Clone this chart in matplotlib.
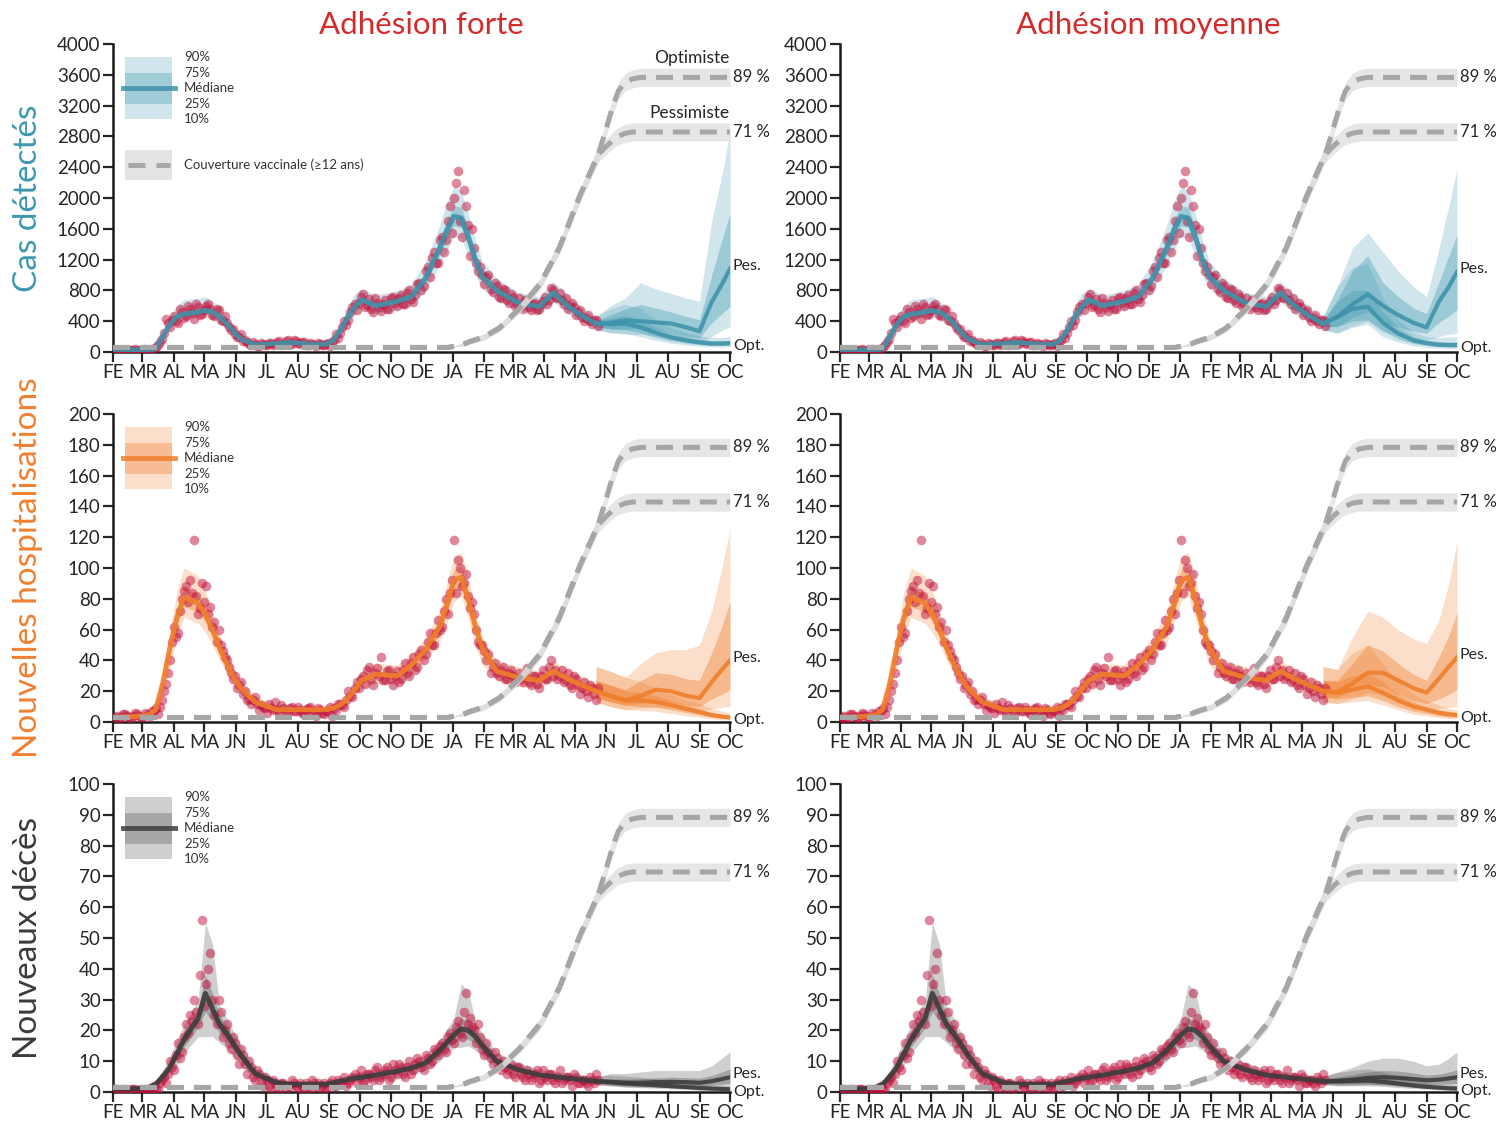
import numpy as np
import matplotlib
matplotlib.use('Agg')
import matplotlib.pyplot as plt
from matplotlib.patches import Rectangle
from matplotlib.lines import Line2D

plt.rcParams['font.family'] = ['Lato', 'DejaVu Sans']

# ---------------- axis categories ----------------
month_days = [0, 29, 60, 90, 121, 151, 182, 213, 243, 274, 304, 335, 366, 394, 425, 455, 486, 516, 547, 578, 608]
month_labels = ['FE', 'MR', 'AL', 'MA', 'JN', 'JL', 'AU', 'SE', 'OC', 'NO', 'DE', 'JA',
                'FE', 'MR', 'AL', 'MA', 'JN', 'JL', 'AU', 'SE', 'OC']
col_titles = ['Adhésion forte', 'Adhésion moyenne']
row_labels = ['Cas détectés', 'Nouvelles hospitalisations', 'Nouveaux décès']

# ---------------- model fit (days since 1 Feb 2020) ----------------
fit_days = [0, 21, 35, 42, 49, 56, 63, 70, 84, 91, 98, 105, 112, 119, 126, 140, 161, 175, 196, 210, 217, 224,
            231, 238, 245, 259, 280, 294, 308, 322, 329, 336, 343, 350, 357, 364, 378, 399, 420, 434, 448, 462, 476]

cas_med = [30, 30, 30, 40, 200, 360, 460, 490, 520, 540, 520, 460, 370, 260, 170, 95, 110, 125, 100, 100, 150, 280,
           450, 580, 680, 600, 660, 720, 960, 1350, 1580, 1760, 1740, 1500, 1200, 980, 800, 640, 590, 770, 600, 470, 370]
cas_q90 = [45, 45, 45, 60, 260, 470, 600, 680, 700, 720, 660, 580, 460, 320, 210, 120, 140, 160, 130, 130, 200, 360,
           560, 760, 820, 740, 800, 880, 1180, 1650, 1950, 2150, 2100, 1800, 1450, 1180, 960, 780, 720, 920, 740, 580, 460]
cas_q75 = [33, 33, 33, 45, 220, 390, 500, 530, 560, 585, 560, 495, 400, 280, 185, 103, 119, 135, 108, 108, 162, 302,
           485, 625, 735, 650, 715, 780, 1040, 1460, 1710, 1900, 1880, 1620, 1300, 1060, 865, 690, 640, 830, 650, 508, 400]
cas_q25 = [27, 27, 27, 36, 185, 335, 428, 455, 485, 502, 484, 428, 344, 242, 158, 88, 102, 116, 93, 93, 140, 260,
           418, 540, 632, 558, 614, 670, 893, 1255, 1470, 1637, 1618, 1395, 1116, 911, 744, 595, 549, 716, 558, 437, 344]
cas_q10 = [15, 15, 15, 25, 150, 290, 390, 420, 450, 460, 440, 390, 310, 215, 140, 75, 90, 100, 80, 80, 115, 220,
           370, 480, 570, 500, 550, 600, 800, 1130, 1320, 1500, 1480, 1260, 1000, 820, 670, 540, 490, 650, 500, 390, 305]

hos_med = [3, 3.5, 4.5, 8, 25, 48, 68, 81, 77, 70, 60, 48, 38, 29, 22, 13, 8, 8, 8, 8, 9, 11,
           15, 21, 27, 31, 30, 37, 47, 62, 76, 92, 94, 80, 62, 48, 33, 29, 27, 33, 28, 24, 20]
hos_q90 = [5, 5.5, 7, 12, 30, 58, 85, 100, 95, 85, 72, 57, 45, 35, 27, 17, 11, 11, 11, 11, 12, 14,
           19, 26, 33, 38, 37, 44, 55, 72, 90, 108, 110, 95, 72, 55, 40, 36, 33, 40, 34, 30, 25]
hos_q75 = [3.5, 4, 5, 9, 27, 52, 73, 87, 83, 75, 65, 52, 41, 31, 24, 14, 9, 9, 9, 9, 10, 12,
           16, 23, 29, 33, 32, 40, 51, 67, 82, 99, 101, 86, 67, 52, 36, 31, 29, 36, 30, 26, 22]
hos_q25 = [2.5, 3, 4, 7, 23, 44, 63, 75, 71, 65, 55, 44, 35, 27, 20, 12, 7, 7, 7, 7, 8, 10,
           14, 19, 25, 29, 28, 34, 43, 57, 70, 85, 87, 74, 57, 44, 30, 27, 25, 30, 26, 22, 18]
hos_q10 = [1.5, 2, 3, 5, 16, 36, 54, 68, 64, 58, 50, 40, 32, 24, 18, 10, 6, 6, 6, 6, 7, 8.5,
           12, 17, 22, 25, 24, 31, 40, 52, 64, 78, 82, 67, 50, 37, 27, 23, 22, 27, 23, 19, 16]

dec_med = [1, 1, 1.5, 2.5, 5, 8, 12.5, 17, 24, 32, 27, 22, 19, 15.5, 12, 6, 3, 2.5, 2.5, 2.5, 3, 3.5,
           4, 4.5, 4.8, 5.5, 6.8, 7.8, 9.5, 13.5, 16, 18.5, 20.5, 20, 18, 15, 10, 7.3, 5.5, 5, 4.5, 4, 3.5]
dec_q90 = [1.5, 1.5, 2.2, 3.5, 7, 11.5, 17, 22, 30, 55, 48, 28, 24, 19.5, 15.5, 8, 4.2, 3.6, 3.6, 3.6, 4.2, 4.8,
           5.5, 6.2, 6.6, 7.4, 8.8, 10, 12.2, 17, 20.5, 24, 35, 33, 23, 19, 13, 9.5, 7.4, 6.8, 6.2, 5.5, 5]
dec_q75 = [1.2, 1.2, 1.7, 2.9, 5.7, 9.2, 14.5, 19.5, 27, 38, 32, 25, 21.5, 17.5, 13.6, 6.8, 3.4, 2.8, 2.8, 2.8, 3.4, 4,
           4.5, 5.1, 5.4, 6.2, 7.7, 8.8, 10.7, 15.2, 18, 21, 24, 23, 20.5, 17, 11.3, 8.2, 6.2, 5.6, 5.1, 4.5, 4]
dec_q25 = [0.8, 0.8, 1.3, 2.1, 4.3, 6.9, 10.7, 14.5, 21, 26, 23, 19, 16.5, 13.5, 10.4, 5.2, 2.6, 2.2, 2.2, 2.2, 2.6, 3,
           3.5, 3.9, 4.2, 4.8, 5.9, 6.8, 8.3, 11.8, 14, 16, 17.5, 17.2, 15.6, 13, 8.7, 6.4, 4.8, 4.4, 3.9, 3.5, 3]
dec_q10 = [0.5, 0.5, 0.9, 1.6, 3.2, 5.5, 8.5, 12.5, 18, 18, 18, 16, 14, 11.5, 8.7, 4.2, 2, 1.7, 1.7, 1.7, 2, 2.4,
           2.8, 3.2, 3.4, 3.9, 4.9, 5.8, 7, 10, 12.3, 14.3, 14.5, 15, 13.5, 11.5, 7.6, 5.4, 4, 3.6, 3.2, 2.8, 2.4]

# ---------------- observations (every 4 days; series "a" from day 0, "b" from day 2) ----------------
obs_step = 4
cas_obs_a = [10, 15, 20, 10, 25, 20, 30, 25, 35, 30,
             45, 90, 170, 430, 330, 470, 380, 520, 470, 560,
             430, 580, 500, 600, 560, 470, 540, 400, 380, 290,
             230, 200, 140, 130, 90, 110, 80, 110, 90, 120,
             100, 140, 110, 150, 110, 140, 100, 130, 90, 110,
             80, 110, 90, 120, 130, 230, 250, 400, 420, 580,
             540, 720, 580, 690, 520, 640, 530, 680, 560, 720,
             600, 740, 620, 800, 650, 880, 800, 1050, 980, 1300,
             1150, 1500, 1450, 1900, 2000, 2350, 1500, 1900, 1250, 1350,
             1050, 1000, 980, 820, 900, 720, 820, 680, 750, 600,
             700, 560, 660, 540, 640, 560, 660, 620, 830, 720,
             760, 620, 560, 640, 480, 540, 400, 480, 360, 410]
cas_obs_b = [20, 5, 30, 15, 20, 35, 15, 30, 20, 40,
             60, 130, 250, 380, 420, 400, 560, 440, 600, 510,
             620, 480, 540, 620, 480, 560, 420, 470, 330, 300,
             190, 230, 150, 100, 130, 80, 120, 85, 115, 95,
             130, 95, 145, 100, 150, 115, 125, 95, 120, 85,
             120, 85, 110, 75, 150, 180, 320, 350, 520, 620,
             640, 750, 610, 560, 700, 580, 620, 560, 700, 640,
             700, 620, 760, 690, 740, 900, 860, 1100, 1220, 1150,
             1450, 1300, 1700, 1550, 2200, 1700, 2100, 1650, 1600, 1150,
             1100, 880, 1000, 780, 860, 700, 800, 640, 720, 620,
             600, 680, 580, 620, 540, 620, 720, 680, 800, 700,
             680, 700, 600, 580, 520, 460, 440, 400, 420, 340]
hos_obs_a = [2, 4, 3, 5, 3, 4, 5, 3, 6, 4,
             7, 5, 14, 25, 40, 62, 58, 80, 88, 92,
             118, 70, 90, 88, 75, 65, 60, 46, 40, 32,
             30, 24, 18, 14, 12, 16, 8, 10, 6, 9,
             13, 7, 9, 6, 10, 7, 8, 5, 9, 7,
             4, 8, 5, 7, 4, 8, 12, 10, 20, 16,
             26, 28, 25, 36, 24, 35, 42, 27, 34, 24,
             33, 28, 38, 30, 42, 36, 47, 44, 58, 50,
             66, 62, 80, 84, 118, 105, 88, 96, 74, 70,
             52, 50, 40, 32, 38, 30, 36, 28, 34, 26,
             32, 26, 35, 24, 30, 22, 34, 28, 40, 34,
             30, 26, 32, 22, 28, 18, 26, 16, 22, 14]
hos_obs_b = [3, 2, 5, 4, 2, 6, 4, 3, 5, 7,
             9, 10, 20, 32, 52, 55, 72, 85, 78, 84,
             82, 74, 78, 70, 62, 52, 50, 42, 36, 28,
             22, 26, 20, 15, 14, 12, 11, 9, 12, 8,
             8, 11, 6, 9, 7, 10, 6, 8, 10, 6,
             9, 6, 7, 10, 9, 12, 11, 14, 17, 22,
             22, 30, 34, 28, 32, 30, 27, 33, 28, 30,
             26, 34, 32, 38, 34, 44, 40, 52, 50, 58,
             60, 72, 70, 92, 84, 100, 90, 82, 78, 60,
             50, 46, 44, 36, 32, 34, 28, 32, 30, 28,
             28, 30, 26, 30, 25, 30, 28, 36, 30, 28,
             34, 27, 24, 30, 24, 22, 20, 24, 18, 22]
dec_obs_a = [0, 1, 0, 1, 0, 1, 0, 1, 1, 0,
             2, 1, 4, 3, 10, 7, 16, 13, 22, 25,
             30, 22, 56, 35, 45, 25, 30, 18, 22, 14,
             16, 9, 12, 6, 8, 4, 6, 2, 4, 1,
             3, 1, 3, 2, 4, 2, 3, 1, 2, 4,
             2, 1, 3, 2, 4, 2, 3, 5, 3, 5,
             3, 7, 4, 6, 4, 8, 5, 7, 4, 9,
             6, 8, 5, 10, 7, 11, 8, 12, 9, 14,
             12, 16, 13, 19, 16, 23, 18, 32, 24, 20,
             22, 14, 16, 11, 13, 8, 10, 6, 9, 5,
             8, 5, 7, 4, 6, 3, 7, 4, 6, 3,
             7, 4, 5, 2, 5, 3, 4, 2, 4, 6]
dec_obs_b = [1, 0, 1, 0, 1, 1, 0, 0, 1, 1,
             1, 3, 5, 6, 8, 12, 11, 18, 19, 23,
             26, 38, 28, 40, 30, 22, 26, 20, 16, 18,
             12, 14, 9, 10, 5, 7, 3, 5, 2, 4,
             2, 3, 1, 2, 3, 1, 2, 3, 1, 3,
             3, 2, 1, 3, 2, 4, 3, 2, 4, 6,
             5, 3, 6, 5, 7, 4, 6, 8, 5, 7,
             9, 6, 8, 6, 9, 10, 7, 11, 10, 13,
             15, 14, 18, 17, 21, 19, 26, 22, 21, 16,
             18, 12, 13, 9, 11, 7, 8, 7, 6, 8,
             6, 4, 6, 5, 7, 4, 5, 6, 4, 5,
             3, 5, 4, 6, 3, 4, 3, 5, 3, 4]

# ---------------- projections ----------------
proj_days = [476, 490, 505, 520, 535, 550, 565, 578, 590, 600, 608]

cas_f_pes_med = [370, 380, 410, 400, 385, 370, 320, 270, 650, 880, 1080]
cas_f_pes_q90 = [460, 600, 700, 900, 820, 760, 700, 660, 1700, 2300, 2850]
cas_f_pes_q75 = [410, 480, 560, 620, 570, 520, 460, 420, 1000, 1450, 1800]
cas_f_pes_q25 = [330, 300, 300, 310, 290, 250, 200, 180, 380, 500, 590]
cas_f_pes_q10 = [290, 250, 230, 230, 210, 170, 130, 110, 200, 280, 330]
cas_f_opt_med = [370, 360, 370, 320, 250, 190, 150, 125, 110, 110, 115]
cas_f_opt_q90 = [460, 560, 620, 560, 420, 320, 250, 210, 190, 190, 200]
cas_f_opt_q75 = [410, 440, 470, 420, 320, 245, 195, 165, 145, 145, 150]
cas_f_opt_q25 = [330, 300, 290, 250, 190, 145, 115, 95, 85, 85, 90]
cas_f_opt_q10 = [290, 250, 240, 200, 150, 115, 90, 75, 65, 65, 65]

cas_m_pes_med = [370, 455, 620, 750, 600, 480, 380, 320, 650, 850, 1040]
cas_m_pes_q90 = [460, 845, 1350, 1550, 1300, 1050, 850, 720, 1330, 1900, 2380]
cas_m_pes_q75 = [410, 675, 1050, 1250, 900, 720, 570, 500, 900, 1250, 1520]
cas_m_pes_q25 = [330, 330, 450, 520, 380, 320, 270, 245, 380, 470, 545]
cas_m_pes_q10 = [290, 245, 340, 400, 260, 210, 180, 155, 200, 230, 245]
cas_m_opt_med = [370, 455, 560, 590, 380, 240, 150, 115, 95, 90, 90]
cas_m_opt_q90 = [460, 845, 1100, 1150, 700, 420, 260, 200, 190, 195, 200]
cas_m_opt_q75 = [410, 650, 800, 800, 520, 320, 200, 155, 135, 130, 130]
cas_m_opt_q25 = [330, 330, 400, 420, 280, 170, 110, 85, 70, 65, 65]
cas_m_opt_q10 = [290, 245, 320, 360, 200, 130, 80, 60, 50, 48, 48]

hos_f_pes_med = [20, 17, 14, 17, 21, 20, 17, 15.5, 26, 34, 40]
hos_f_pes_q90 = [36, 33, 29, 38, 45, 47, 47, 50, 72, 100, 125]
hos_f_pes_q75 = [27, 24, 21, 27, 32, 31, 28, 27, 45, 62, 78]
hos_f_pes_q25 = [16, 13, 11, 12, 14, 13, 11, 10, 15, 18, 21]
hos_f_pes_q10 = [13, 10, 8, 9, 10, 9, 7.5, 6.5, 8.5, 9.5, 10]
hos_f_opt_med = [20, 17, 14, 14, 13, 11, 8.5, 6.5, 4.5, 3.5, 3]
hos_f_opt_q90 = [36, 33, 29, 26, 22, 18, 14, 12, 9, 7, 6]
hos_f_opt_q75 = [27, 24, 20, 19, 17, 14, 11, 8.5, 6, 5, 4]
hos_f_opt_q25 = [16, 13, 11, 10, 9.5, 8, 6, 4.5, 3.2, 2.5, 2]
hos_f_opt_q10 = [13, 10, 8, 7.5, 7, 5.5, 4, 3, 2, 1.5, 1.2]

hos_m_pes_med = [20, 19.5, 25, 32, 32, 27, 22, 19, 28, 36, 42]
hos_m_pes_q90 = [36, 34, 55, 72, 68, 60, 54, 51, 66, 90, 118]
hos_m_pes_q75 = [27, 27, 38, 50, 46, 38, 31, 27, 42, 56, 71]
hos_m_pes_q25 = [16, 16, 20, 24, 23, 18, 14, 12, 15, 18, 21]
hos_m_pes_q10 = [13, 12, 15, 19, 17, 13, 10, 8, 9, 9.5, 10]
hos_m_opt_med = [20, 19, 21, 23, 19, 14, 10, 8, 6, 5, 4.5]
hos_m_opt_q90 = [36, 34, 45, 50, 38, 26, 18, 14, 11, 9, 8]
hos_m_opt_q75 = [27, 26, 30, 32, 26, 18, 13, 10, 8, 7, 6]
hos_m_opt_q25 = [16, 15, 16, 17, 14, 10, 7, 5.5, 4, 3.2, 3]
hos_m_opt_q10 = [13, 12, 13, 14, 11, 8, 5, 4, 2.8, 2.2, 2]

dec_f_pes_med = [3.5, 3.3, 3.0, 3.0, 3.2, 3.3, 3.2, 3.0, 3.5, 4.2, 4.8]
dec_f_pes_q90 = [5, 6, 6, 6.5, 7, 7, 7, 7, 8.5, 11, 13]
dec_f_pes_q75 = [4.2, 4.3, 4.2, 4.3, 4.6, 4.8, 4.7, 4.5, 5.3, 6.5, 7.5]
dec_f_pes_q25 = [2.8, 2.5, 2.2, 2.2, 2.3, 2.3, 2.1, 2.0, 2.2, 2.5, 2.8]
dec_f_pes_q10 = [2.4, 2.0, 1.7, 1.6, 1.6, 1.6, 1.4, 1.3, 1.4, 1.6, 1.7]
dec_f_opt_med = [3.5, 3.2, 2.8, 2.5, 2.2, 1.9, 1.6, 1.3, 1.1, 1.0, 0.9]
dec_f_opt_q90 = [5, 5.5, 5.2, 4.8, 4.2, 3.6, 3.0, 2.6, 2.2, 2.0, 1.9]
dec_f_opt_q75 = [4.2, 4.1, 3.8, 3.4, 3.0, 2.6, 2.2, 1.8, 1.5, 1.4, 1.3]
dec_f_opt_q25 = [2.8, 2.4, 2.0, 1.8, 1.6, 1.3, 1.1, 0.9, 0.8, 0.7, 0.6]
dec_f_opt_q10 = [2.4, 2.0, 1.6, 1.4, 1.2, 1.0, 0.8, 0.6, 0.5, 0.4, 0.4]

dec_m_pes_med = [3.5, 3.6, 4.0, 4.6, 4.8, 4.6, 4.2, 3.8, 4.0, 4.4, 4.8]
dec_m_pes_q90 = [5, 6.5, 8, 10, 11, 11, 10, 8.5, 9, 11, 13]
dec_m_pes_q75 = [4.2, 4.8, 5.6, 6.5, 7, 6.8, 6.2, 5.5, 5.8, 6.5, 7.2]
dec_m_pes_q25 = [2.8, 2.7, 2.9, 3.2, 3.3, 3.1, 2.8, 2.5, 2.5, 2.6, 2.8]
dec_m_pes_q10 = [2.4, 2.1, 2.2, 2.4, 2.4, 2.2, 2.0, 1.7, 1.6, 1.6, 1.7]
dec_m_opt_med = [3.5, 3.5, 3.6, 3.7, 3.3, 2.7, 2.1, 1.7, 1.4, 1.2, 1.1]
dec_m_opt_q90 = [5, 6.3, 7, 7.5, 6.5, 5, 3.8, 3, 2.5, 2.2, 2.1]
dec_m_opt_q75 = [4.2, 4.6, 4.9, 5.1, 4.5, 3.6, 2.8, 2.2, 1.8, 1.6, 1.5]
dec_m_opt_q25 = [2.8, 2.6, 2.6, 2.6, 2.3, 1.9, 1.5, 1.2, 1.0, 0.9, 0.8]
dec_m_opt_q10 = [2.4, 2.0, 2.0, 2.0, 1.8, 1.4, 1.1, 0.9, 0.7, 0.6, 0.5]

# ---------------- vaccine coverage (fraction of >=12 ans) ----------------
vac_days = [0, 330, 345, 352, 366, 381, 401, 421, 440, 460, 478]
vac_base = [0, 0, 0.01, 0.02, 0.035, 0.065, 0.13, 0.21, 0.33, 0.50, 0.635]
vac_base_unc = [0, 0, 0.005, 0.008, 0.01, 0.012, 0.015, 0.018, 0.02, 0.022, 0.025]
vac_opt_days = [478, 485, 492, 498, 505, 512, 520, 535, 608]
vac_opt = [0.635, 0.71, 0.79, 0.845, 0.875, 0.885, 0.89, 0.89, 0.89]
vac_opt_unc = [0.025, 0.026, 0.027, 0.028, 0.029, 0.03, 0.03, 0.03, 0.03]
vac_pes_days = [478, 487, 497, 505, 512, 525, 608]
vac_pes = [0.635, 0.666, 0.695, 0.706, 0.71, 0.71, 0.71]
vac_pes_unc = [0.025, 0.026, 0.028, 0.03, 0.03, 0.03, 0.03]
vac_labels = ['89 %', '71 %']

# ---------------- styling ----------------
row_colors = ['#4a9fb5', '#f08030', '#555555']
row_median_colors = ['#3f93aa', '#f07f2c', '#3d3d3d']
row_label_colors = ['#3d98b0', '#f08030', '#3a3a3a']
row_ylims = [4000, 200, 100]
row_ysteps = [400, 20, 10]
alpha90 = [0.25, 0.25, 0.28]
alpha75 = [0.40, 0.40, 0.36]
obs_color = '#c0103a'
title_color = '#d42a2a'
text_color = '#262626'

fits = [(cas_med, cas_q10, cas_q25, cas_q75, cas_q90),
        (hos_med, hos_q10, hos_q25, hos_q75, hos_q90),
        (dec_med, dec_q10, dec_q25, dec_q75, dec_q90)]
obs = [(cas_obs_a, cas_obs_b), (hos_obs_a, hos_obs_b), (dec_obs_a, dec_obs_b)]
projs = {
    (0, 0): [(cas_f_pes_med, cas_f_pes_q10, cas_f_pes_q25, cas_f_pes_q75, cas_f_pes_q90),
             (cas_f_opt_med, cas_f_opt_q10, cas_f_opt_q25, cas_f_opt_q75, cas_f_opt_q90)],
    (0, 1): [(cas_m_pes_med, cas_m_pes_q10, cas_m_pes_q25, cas_m_pes_q75, cas_m_pes_q90),
             (cas_m_opt_med, cas_m_opt_q10, cas_m_opt_q25, cas_m_opt_q75, cas_m_opt_q90)],
    (1, 0): [(hos_f_pes_med, hos_f_pes_q10, hos_f_pes_q25, hos_f_pes_q75, hos_f_pes_q90),
             (hos_f_opt_med, hos_f_opt_q10, hos_f_opt_q25, hos_f_opt_q75, hos_f_opt_q90)],
    (1, 1): [(hos_m_pes_med, hos_m_pes_q10, hos_m_pes_q25, hos_m_pes_q75, hos_m_pes_q90),
             (hos_m_opt_med, hos_m_opt_q10, hos_m_opt_q25, hos_m_opt_q75, hos_m_opt_q90)],
    (2, 0): [(dec_f_pes_med, dec_f_pes_q10, dec_f_pes_q25, dec_f_pes_q75, dec_f_pes_q90),
             (dec_f_opt_med, dec_f_opt_q10, dec_f_opt_q25, dec_f_opt_q75, dec_f_opt_q90)],
    (2, 1): [(dec_m_pes_med, dec_m_pes_q10, dec_m_pes_q25, dec_m_pes_q75, dec_m_pes_q90),
             (dec_m_opt_med, dec_m_opt_q10, dec_m_opt_q25, dec_m_opt_q75, dec_m_opt_q90)],
}

W, H = 1496, 1121
fig = plt.figure(figsize=(W / 100, H / 100), dpi=100)
col_x = [113, 840]
ax_w = 617
row_top = [44, 414, 784]
ax_h = 308

vac_opt_x = vac_days + vac_opt_days[1:]
vac_opt_y = vac_base + vac_opt[1:]
vac_opt_u = vac_base_unc + vac_opt_unc[1:]
vac_pes_x = vac_days + vac_pes_days[1:]
vac_pes_y = vac_base + vac_pes[1:]
vac_pes_u = vac_base_unc + vac_pes_unc[1:]


def draw_legend(ax, r):
    col = row_colors[r]
    ax.add_patch(Rectangle((0.0194, 0.756), 0.0762, 0.202, transform=ax.transAxes,
                           facecolor=col, alpha=alpha90[r], lw=0, zorder=6))
    ax.add_patch(Rectangle((0.0194, 0.805), 0.0762, 0.101, transform=ax.transAxes,
                           facecolor=col, alpha=alpha75[r] * 0.9, lw=0, zorder=6))
    ax.add_line(Line2D([0.0162, 0.1005], [0.857, 0.857], transform=ax.transAxes,
                       color=row_median_colors[r], lw=3.5, alpha=0.85, zorder=7))
    for txt, fy in zip(['90%', '75%', 'Médiane', '25%', '10%'], [0.958, 0.906, 0.857, 0.805, 0.756]):
        ax.text(0.115, fy, txt, transform=ax.transAxes, fontsize=9.5, va='center', ha='left',
                color='#333333', zorder=7)
    if r == 0:
        ax.add_patch(Rectangle((0.0194, 0.558), 0.0762, 0.098, transform=ax.transAxes,
                               facecolor='#e4e4e4', lw=0, zorder=6))
        ax.add_line(Line2D([0.024, 0.092], [0.607, 0.607], transform=ax.transAxes,
                           color='#a8a8a8', lw=3.6, dashes=(3.4, 2.2), zorder=7))
        ax.text(0.115, 0.607, 'Couverture vaccinale (≥12 ans)', transform=ax.transAxes,
                fontsize=9.5, va='center', ha='left', color='#333333', zorder=7)


for r in range(3):
    for c in range(2):
        ax = fig.add_axes([col_x[c] / W, 1 - (row_top[r] + ax_h) / H, ax_w / W, ax_h / H])
        col = row_colors[r]
        med, q10, q25, q75, q90 = fits[r]
        # fit bands
        ax.fill_between(fit_days, q10, q90, color=col, alpha=alpha90[r], lw=0, zorder=1)
        ax.fill_between(fit_days, q25, q75, color=col, alpha=alpha75[r], lw=0, zorder=1)
        # projection bands
        for (pm, p10, p25, p75, p90) in projs[(r, c)]:
            ax.fill_between(proj_days, p10, p90, color=col, alpha=alpha90[r], lw=0, zorder=1)
            ax.fill_between(proj_days, p25, p75, color=col, alpha=alpha75[r], lw=0, zorder=1)
        # observations
        for k, o in enumerate(obs[r]):
            start = 2 * k
            o_days = list(range(start, start + obs_step * len(o), obs_step))
            ax.scatter(o_days, o, s=48, color=obs_color, alpha=0.5, lw=0, zorder=3)
        # medians
        ax.plot(fit_days, med, color=row_median_colors[r], lw=3.6, alpha=0.9, zorder=4,
                solid_capstyle='butt')
        for (pm, p10, p25, p75, p90) in projs[(r, c)]:
            ax.plot(proj_days, pm, color=row_median_colors[r], lw=3.0, alpha=0.9, zorder=4)
        pes_end = projs[(r, c)][0][0][-1]
        opt_end = projs[(r, c)][1][0][-1]
        ax.annotate('Pes.', xy=(608, pes_end), xytext=(2, 2), textcoords='offset points',
                    fontsize=11.5, va='center', ha='left', color=text_color, annotation_clip=False)
        ax.annotate('Opt.', xy=(608, opt_end), xytext=(2, -2), textcoords='offset points',
                    fontsize=11.5, va='center', ha='left', color=text_color, annotation_clip=False)

        ax.set_xlim(0, 608)
        ax.set_ylim(0, row_ylims[r])
        ax.set_yticks(np.arange(0, row_ylims[r] + 1, row_ysteps[r]))
        ax.set_xticks(month_days)
        ax.set_xticklabels(month_labels)
        ax.tick_params(axis='both', direction='out', length=7, width=1.6, labelsize=13.5,
                       colors=text_color, pad=2)
        for s in ['top', 'right']:
            ax.spines[s].set_visible(False)
        for s in ['left', 'bottom']:
            ax.spines[s].set_linewidth(1.8)
            ax.spines[s].set_color('#1a1a1a')

        # vaccine coverage on a 0-100 % twin scale
        ax2 = ax.twinx()
        ax2.set_ylim(-0.015, 1.0)
        ax2.set_xlim(0, 608)
        ax2.axis('off')
        for vx, vy, vu in [(vac_pes_x, vac_pes_y, vac_pes_u), (vac_opt_x, vac_opt_y, vac_opt_u)]:
            vy_a = np.array(vy)
            vu_a = np.array(vu)
            ax2.fill_between(vx, vy_a - vu_a, vy_a + vu_a, color='#dcdcdc', alpha=0.7, lw=0, zorder=5)
        for vx, vy in [(vac_pes_x, vac_pes_y), (vac_opt_x, vac_opt_y)]:
            ax2.plot(vx, vy, color='#a6a6a6', lw=3.6, dashes=(3.4, 2.0), zorder=6)
        ax2.text(611, vac_opt[-1], vac_labels[0], fontsize=12, va='center', ha='left', color=text_color)
        ax2.text(611, vac_pes[-1], vac_labels[1], fontsize=12, va='center', ha='left', color=text_color)
        if r == 0 and c == 0:
            ax2.annotate('Optimiste', xy=(608, vac_opt[-1]), xytext=(0, 8), textcoords='offset points',
                         ha='right', va='bottom', fontsize=12.5, color=text_color)
            ax2.annotate('Pessimiste', xy=(608, vac_pes[-1]), xytext=(0, 8), textcoords='offset points',
                         ha='right', va='bottom', fontsize=12.5, color=text_color)
        if c == 0:
            draw_legend(ax2, r)

        if r == 0:
            fig.text((col_x[c] + ax_w / 2) / W, 1 - 25 / H, col_titles[c], ha='center', va='center',
                     fontsize=22.5, color=title_color)
    fig.text(28 / W, 1 - (row_top[r] + ax_h / 2) / H, row_labels[r], rotation=90, ha='center',
             va='center', fontsize=24, color=row_label_colors[r])

fig.savefig('out.png', dpi=100)
